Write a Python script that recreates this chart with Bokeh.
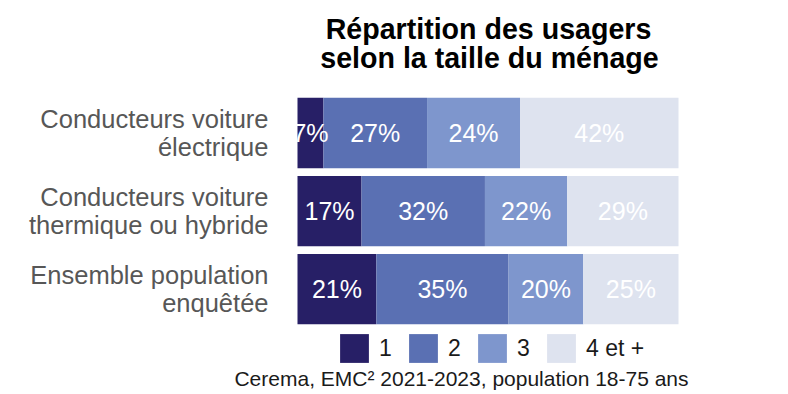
from bokeh.plotting import figure
from bokeh.models import ColumnDataSource, Range1d, Label, LabelSet, Legend, LegendItem
from bokeh.core.properties import value
from bokeh.embed import file_html
from bokeh.resources import INLINE

groups = ["Conducteurs voiture\nélectrique",
          "Conducteurs voiture\nthermique ou hybride",
          "Ensemble population\nenquêtée"]
sizes = ["1", "2", "3", "4 et +"]
s1 = [6.8, 16.8, 20.7]
s2 = [27.2, 32.4, 34.7]
s3 = [24.4, 21.6, 19.6]
s4 = [41.6, 29.2, 25.0]
colors = ["#271f66", "#5a70b3", "#7e96cd", "#dee3ef"]
title_lines = ["Répartition des usagers", "selon la taille du ménage"]
caption = "Cerema, EMC² 2021-2023, population 18-75 ans"

W, H = 788, 394
FONT_NAME = "Liberation Sans"
FONT = value(FONT_NAME)
ypos = list(range(len(groups)))
series = [s1, s2, s3, s4]
keys = ["s1", "s2", "s3", "s4"]

# bar area in pixels: x 297..678 maps 0..100 ; row centres every 78.1 px from 132.5
BX0, BX1 = 297.0, 678.0
XPX = (BX1 - BX0) / 100.0
ROW, ROW0 = 78.1, 132.5
LINE_GAP = 14.0 / ROW  # half line spacing of the category labels, in row units

src = ColumnDataSource(dict(y=ypos, s1=s1, s2=s2, s3=s3, s4=s4))

p = figure(width=W, height=H, output_backend="svg", toolbar_location=None,
           x_range=Range1d(-BX0 / XPX, (W - BX0) / XPX),
           y_range=Range1d((H - ROW0) / ROW, -ROW0 / ROW),
           min_border=0)
p.axis.visible = False
p.grid.visible = False
p.outline_line_color = None
p.background_fill_color = "white"

renderers = p.hbar_stack(keys, y="y", height=0.9, color=colors, line_color=None, source=src)

# percentage labels
tx, ty, tt = [], [], []
for i in ypos:
    left = 0.0
    for s in series:
        v = s[i]
        tx.append(left + v / 2)
        ty.append(i)
        tt.append(f"{round(v)}%")
        left += v
p.text(x="x", y="y", text="t", source=ColumnDataSource(dict(x=tx, y=ty, t=tt)),
       text_color="white", text_font=FONT, text_font_size="25px",
       text_align="center", text_baseline="middle")

# category labels, one line at a time so that every line is right-aligned
ly, lt = [], []
for i, g in zip(ypos, groups):
    parts = g.split("\n")
    n = len(parts)
    for k, line in enumerate(parts):
        ly.append(i + (2 * k - (n - 1)) * LINE_GAP)
        lt.append(line)
p.add_layout(LabelSet(x=268, x_units="screen", y="y", text="t",
                      source=ColumnDataSource(dict(y=ly, t=lt)),
                      text_align="right", text_baseline="middle", text_color="#575757",
                      text_font=FONT, text_font_size="25.5px"))

# title
p.add_layout(Label(x=488, y=H - 28, x_units="screen", y_units="screen", text=title_lines[0],
                   text_align="center", text_baseline="alphabetic", text_font=FONT_NAME,
                   text_font_size="28.6px", text_font_style="bold", text_color="black"))
p.add_layout(Label(x=489, y=H - 57, x_units="screen", y_units="screen", text=title_lines[1],
                   text_align="center", text_baseline="alphabetic", text_font=FONT_NAME,
                   text_font_size="28.6px", text_font_style="bold", text_color="black"))

# caption
p.add_layout(Label(x=461, y=H - 378, x_units="screen", y_units="screen", text=caption,
                   text_align="center", text_baseline="alphabetic", text_font=FONT_NAME,
                   text_font_size="21px", text_color="#1a1a1a"))

legend = Legend(items=[LegendItem(label=s, renderers=[r]) for s, r in zip(sizes, renderers)],
                orientation="horizontal", location=(336, H - 366), padding=0, margin=0,
                spacing=6, label_standoff=7, glyph_width=36, glyph_height=36,
                label_text_font=FONT_NAME, label_text_font_size="23px", label_text_color="#1a1a1a",
                border_line_alpha=0, background_fill_alpha=0)
p.add_layout(legend)

open("out.html", "w").write(file_html(p, INLINE))
